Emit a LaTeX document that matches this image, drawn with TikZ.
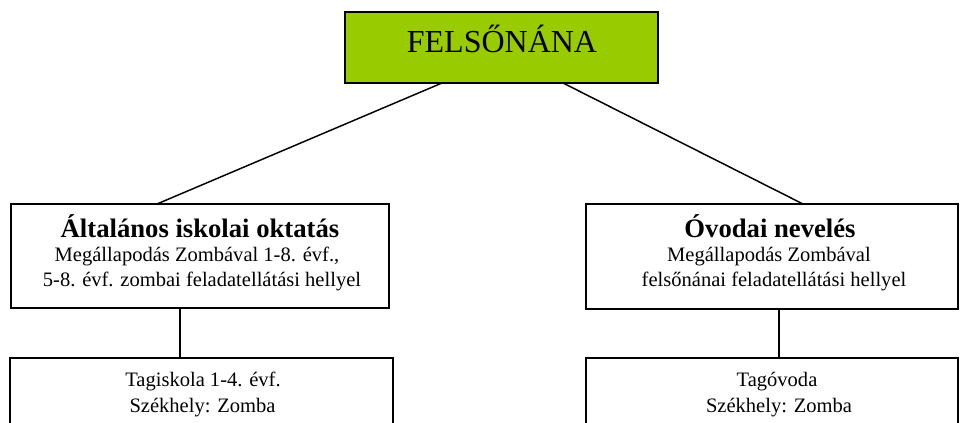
\documentclass[tikz,border=0pt]{standalone}
\usepackage{fontspec}
\setmainfont{Liberation Serif}
\definecolor{limegreen}{RGB}{153,204,0}
\tikzset{
  boxs/.style={draw=black, line width=1.5pt, inner sep=0pt, outer sep=0pt},
  conn/.style={draw=black, line width=1.1pt},
  titletext/.style={font=\fontsize{20}{24}\selectfont\bfseries, anchor=base, inner sep=0pt},
  bodytext/.style={font=\fontsize{15.4}{18}\selectfont, anchor=base, inner sep=0pt},
  toptext/.style={font=\fontsize{24}{28}\selectfont, anchor=base, inner sep=0pt}
}
\begin{document}
\begin{tikzpicture}[x=0.75pt,y=-0.75pt]
\clip (0,0) rectangle (960,423);
\fill[white] (0,0) rectangle (960,423);
% boxes
\node[boxs, fill=limegreen, minimum width=313*0.75pt, minimum height=71*0.75pt] (top) at (501.5,47.5) {};
\node[boxs, minimum width=378*0.75pt, minimum height=104*0.75pt] (left) at (200,256) {};
\node[boxs, minimum width=372*0.75pt, minimum height=105*0.75pt] (right) at (772,256.5) {};
\node[boxs, minimum width=383*0.75pt, minimum height=90*0.75pt] (bleft) at (201.5,403) {};
\node[boxs, minimum width=372*0.75pt, minimum height=90*0.75pt] (bright) at (772,403) {};
% texts
\node[toptext] (ttop) at (502,53) {FELSŐNÁNA};
\node[titletext] (tl1) at (200,238) {Általános iskolai oktatás};
\node[bodytext] (tl2) at (197,262) {Megállapodás Zombával 1-8. évf.,};
\node[bodytext] (tl3) at (202,287) {5-8. évf. zombai feladatellátási hellyel};
\node[titletext] (tr1) at (770,238) {Óvodai nevelés};
\node[bodytext] (tr2) at (769,262) {Megállapodás Zombával};
\node[bodytext] (tr3) at (774,287) {felsőnánai feladatellátási hellyel};
\node[bodytext] (bl1) at (203,387) {Tagiskola 1-4. évf.};
\node[bodytext] (bl2) at (202.5,413) {Székhely: Zomba};
\node[bodytext] (br1) at (777,387) {Tagóvoda};
\node[bodytext] (br2) at (779,413) {Székhely: Zomba};
% connector endpoints
\coordinate (ta) at (442,83);
\coordinate (tb) at (563,83);
\coordinate (la) at (157,204);
\coordinate (ra) at (803,204);
\coordinate (lv1) at (180,308);
\coordinate (lv2) at (180,358);
\coordinate (rv1) at (779,309);
\coordinate (rv2) at (779,358);
\draw[conn] (ta) -- (la);
\draw[conn] (tb) -- (ra);
\draw[conn] (lv1) -- (lv2);
\draw[conn] (rv1) -- (rv2);
\end{tikzpicture}
\end{document}
